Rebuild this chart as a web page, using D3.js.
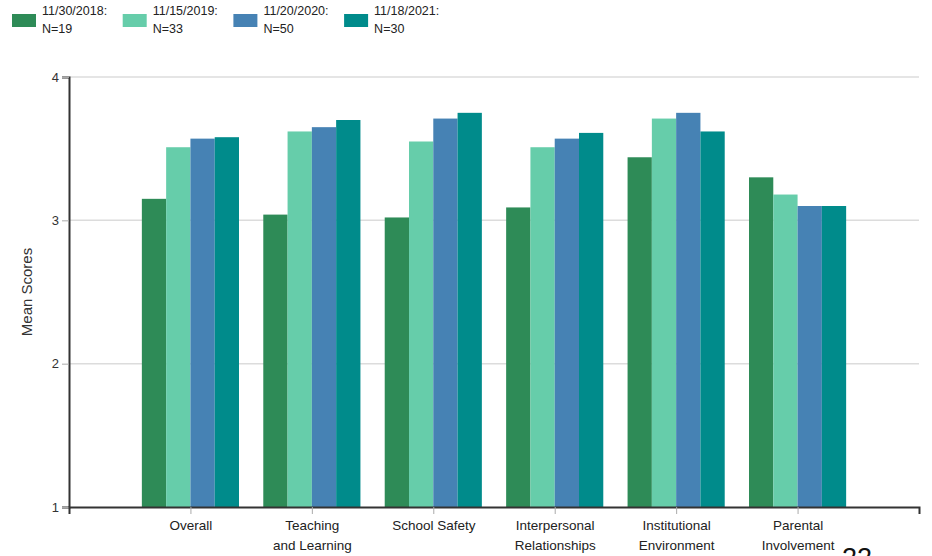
<!DOCTYPE html>
<html>
<head>
<meta charset="utf-8">
<script src="https://cdn.jsdelivr.net/npm/d3@7"></script>
<style>
  html, body { margin: 0; padding: 0; background: #fff; }
  svg { display: block; font-family: Arial, "Liberation Sans", sans-serif; }
</style>
</head>
<body>
<svg id="chart" width="932" height="556"></svg>
<script>
const categories = [
  ["Overall"],
  ["Teaching", "and Learning"],
  ["School Safety"],
  ["Interpersonal", "Relationships"],
  ["Institutional", "Environment"],
  ["Parental", "Involvement"]
];
const seriesNames = ["11/30/2018:", "11/15/2019:", "11/20/2020:", "11/18/2021:"];
const seriesN = ["N=19", "N=33", "N=50", "N=30"];
const seriesColors = ["#2e8b57", "#66cdaa", "#4682b4", "#008b8b"];
const values2018 = [3.15, 3.04, 3.02, 3.09, 3.44, 3.30];
const values2019 = [3.51, 3.62, 3.55, 3.51, 3.71, 3.18];
const values2020 = [3.57, 3.65, 3.71, 3.57, 3.75, 3.10];
const values2021 = [3.58, 3.70, 3.75, 3.61, 3.62, 3.10];
const seriesValues = [values2018, values2019, values2020, values2021];
const yTicks = [1, 2, 3, 4];
const yLabel = "Mean Scores";
const pageNumber = "22";

const svg = d3.select("#chart");
const margin = { left: 69, right: 13, top: 77, bottom: 49 };
const W = 932, H = 556;

const catKeys = categories.map(c => c.join(" "));
const x = d3.scalePoint().domain(catKeys).range([margin.left, W - margin.right]).padding(1);
const groupW = x.step() * 0.8;
const xInner = d3.scaleBand().domain(d3.range(seriesNames.length)).range([-groupW / 2, groupW / 2]);
const y = d3.scaleLinear().domain([1, 4]).range([H - margin.bottom, margin.top]);

// gridlines
svg.append("g").selectAll("line").data(yTicks.filter(t => t > 1)).join("line")
  .attr("x1", margin.left).attr("x2", W - margin.right)
  .attr("y1", d => y(d)).attr("y2", d => y(d))
  .attr("stroke", "#dcdcdc").attr("stroke-width", 1.5);

// bars
const rows = [];
catKeys.forEach((c, i) => seriesValues.forEach((vals, s) => rows.push({ c, s, v: vals[i] })));
svg.append("g").selectAll("rect").data(rows).join("rect")
  .attr("x", d => x(d.c) + xInner(d.s))
  .attr("width", xInner.bandwidth())
  .attr("y", d => y(d.v))
  .attr("height", d => y(1) - y(d.v))
  .attr("fill", d => seriesColors[d.s]);

// y axis
const yAxis = svg.append("g").attr("transform", `translate(${margin.left},0)`)
  .call(d3.axisLeft(y).tickValues(yTicks).tickFormat(d3.format("d")).tickSize(7).tickPadding(3));
yAxis.select(".domain").attr("stroke", "#333").attr("stroke-width", 2);
yAxis.selectAll(".tick line").attr("stroke", "#aaa");
yAxis.selectAll(".tick text").attr("font-size", 13).attr("fill", "#333")
  .attr("font-family", "Arial, 'Liberation Sans', sans-serif");

// x axis
const xAxis = svg.append("g").attr("transform", `translate(0,${y(1)})`)
  .call(d3.axisBottom(x).tickSize(7).tickFormat(""));
xAxis.select(".domain").attr("stroke", "#333").attr("stroke-width", 2);
xAxis.selectAll(".tick line").attr("stroke", "#aaa");
xAxis.selectAll(".tick").each(function (d, i) {
  const t = d3.select(this).append("text")
    .attr("text-anchor", "middle").attr("fill", "#222").attr("font-size", 13.5)
    .attr("font-family", "Arial, 'Liberation Sans', sans-serif");
  categories[i].forEach((line, j) => {
    t.append("tspan").attr("x", 0).attr("y", 23 + j * 20).text(line);
  });
});

// y label
svg.append("text")
  .attr("transform", `translate(32,${(y(1) + y(4)) / 2}) rotate(-90)`)
  .attr("text-anchor", "middle").attr("font-size", 15).attr("fill", "#333")
  .text(yLabel);

// legend
const legend = svg.append("g").selectAll("g").data(seriesNames).join("g")
  .attr("transform", (d, i) => `translate(${12 + i * 110.7},0)`);
legend.append("rect").attr("x", 0).attr("y", 14).attr("width", 24).attr("height", 13)
  .attr("fill", (d, i) => seriesColors[i]);
legend.append("text").attr("x", 30).attr("y", 15).attr("font-size", 12.5).attr("fill", "#222")
  .text(d => d);
legend.append("text").attr("x", 30).attr("y", 33).attr("font-size", 12.5).attr("fill", "#222")
  .text((d, i) => seriesN[i]);

// page number (cut off at bottom)
svg.append("text").attr("x", 842).attr("y", 567).attr("font-size", 27).attr("fill", "#111")
  .text(pageNumber);
</script>
</body>
</html>
